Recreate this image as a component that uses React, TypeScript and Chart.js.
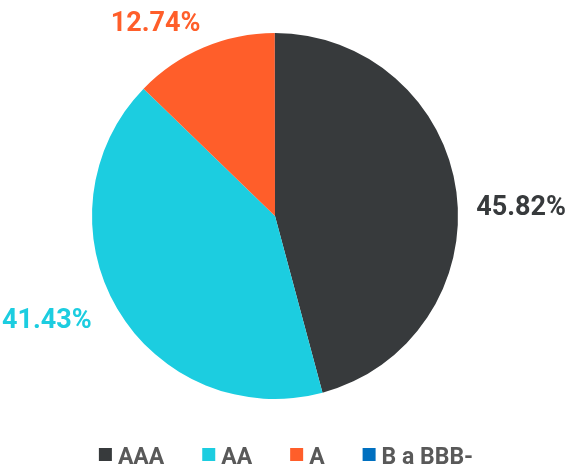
import React, { useEffect, useRef } from "react";
import { Chart, registerables } from "chart.js";

Chart.register(...registerables);

const categories = ["AAA", "AA", "A", "B a BBB-"];
const values = [45.82, 41.43, 12.74, 0.01];
const colors = ["#373a3c", "#1ccde0", "#ff5e2a", "#0070c0"];

const FONT = "Roboto, 'Noto Sans', sans-serif";

const labelPlugin = {
  id: "outLabels",
  afterDatasetsDraw(chart: any, _args: any, opts: any) {
    const ctx = chart.ctx;
    const meta = chart.getDatasetMeta(0);
    const ds = chart.data.datasets[0];
    ctx.save();
    ctx.font = `bold ${opts.size}px ${FONT}`;
    ctx.textBaseline = "alphabetic";
    meta.data.forEach((arc: any, i: number) => {
      const v = ds.data[i] as number;
      if (v < 1) return;
      const { x, y, outerRadius, startAngle, endAngle } = arc.getProps(
        ["x", "y", "outerRadius", "startAngle", "endAngle"],
        true
      );
      const mid = (startAngle + endAngle) / 2;
      const r = outerRadius + opts.distance;
      const cos = Math.cos(mid);
      const sin = Math.sin(mid);
      const nudge = (opts.nudges && opts.nudges[i]) || [0, 0];
      const px = x + r * cos + nudge[0];
      const py = y + r * sin + nudge[1];
      ctx.textAlign = cos >= 0 ? "left" : "right";
      ctx.fillStyle = (ds.backgroundColor as string[])[i];
      ctx.fillText(v.toFixed(2) + "%", px, py + (opts.size * 0.711) / 2);
    });
    ctx.restore();
  },
};

const legendPlugin = {
  id: "bottomLegend",
  afterDraw(chart: any, _args: any, opts: any) {
    const ctx = chart.ctx;
    const ds = chart.data.datasets[0];
    const labels = chart.data.labels as string[];
    ctx.save();
    ctx.font = `bold ${opts.size}px ${FONT}`;
    ctx.textBaseline = "alphabetic";
    ctx.textAlign = "left";
    const widths = labels.map(
      (l) => opts.box + opts.textGap + ctx.measureText(l).width
    );
    const total =
      widths.reduce((a, b) => a + b, 0) + opts.itemGap * (labels.length - 1);
    let x = opts.centerX - total / 2;
    const baseline = opts.baseline;
    labels.forEach((l, i) => {
      ctx.fillStyle = (ds.backgroundColor as string[])[i];
      ctx.fillRect(x, baseline - opts.box - 3, opts.box, opts.box);
      ctx.fillStyle = opts.color;
      ctx.fillText(l, x + opts.box + opts.textGap, baseline);
      x += widths[i] + opts.itemGap;
    });
    ctx.restore();
  },
};

export default function App() {
  const ref = useRef<HTMLCanvasElement>(null);
  useEffect(() => {
    document.body.style.margin = "0";
    const chart = new Chart(ref.current!, {
      type: "pie",
      data: {
        labels: categories,
        datasets: [
          {
            data: values,
            backgroundColor: colors,
            borderWidth: 0,
          },
        ],
      },
      options: {
        responsive: false,
        animation: false,
        devicePixelRatio: 1,
        layout: { padding: { top: 33, bottom: 70, left: 0, right: 15 } },
        plugins: {
          legend: { display: false },
          tooltip: { enabled: false },
          outLabels: {
            size: 27,
            distance: 18,
            nudges: [
              [2, 16],
              [-10, 0],
              [4, -10],
              [0, 0],
            ],
          },
          bottomLegend: {
            size: 23,
            box: 13,
            textGap: 6,
            itemGap: 38,
            centerX: 286,
            baseline: 464,
            color: "#595959",
          },
        } as any,
      },
      plugins: [labelPlugin, legendPlugin],
    });
    return () => chart.destroy();
  }, []);
  return (
    <div style={{ width: 565, height: 469, position: "relative" }}>
      <canvas ref={ref} width={565} height={469} style={{ display: "block" }} />
    </div>
  );
}
